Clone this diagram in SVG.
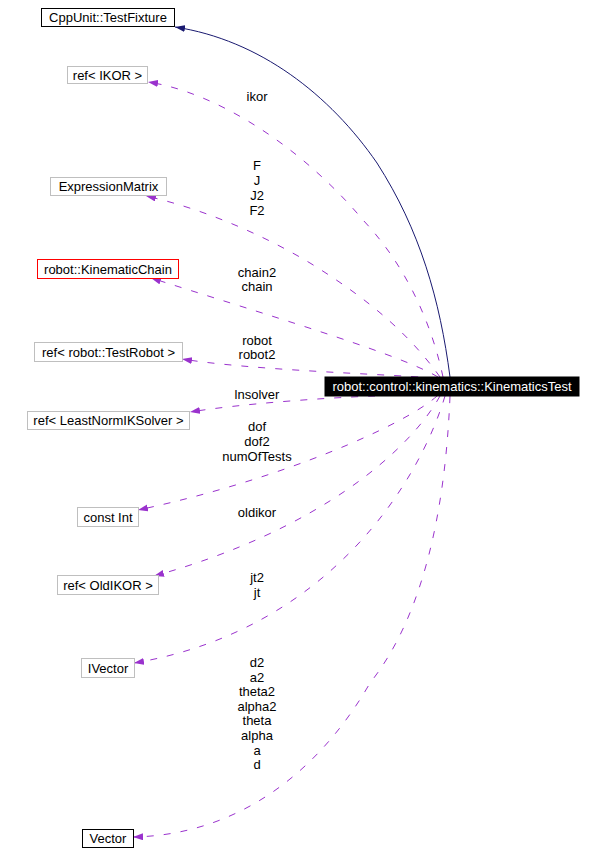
<svg xmlns="http://www.w3.org/2000/svg" width="604" height="865" viewBox="0 0 604 865">
<style>
text{font-family:"Liberation Sans",Arial,sans-serif;font-size:13px;text-anchor:middle;fill:#000}
.box{fill:#fff;stroke:#bfbfbf;stroke-width:1}
.blk{fill:#fff;stroke:#000;stroke-width:1}
.red{fill:#fff;stroke:#ff0000;stroke-width:1}
.use{fill:none;stroke:#9a32cd;stroke-width:1;stroke-dasharray:7,10;marker-end:url(#pa)}
.inh{fill:none;stroke:#191970;stroke-width:1;marker-end:url(#na)}
</style>
<defs>
<marker id="pa" markerUnits="userSpaceOnUse" markerWidth="11" markerHeight="8" refX="10" refY="3.5" orient="auto">
<path d="M0,0 L10,3.5 L0,7 z" fill="#9a32cd" stroke="none"/>
</marker>
<marker id="na" markerUnits="userSpaceOnUse" markerWidth="11" markerHeight="8" refX="10" refY="3.5" orient="auto">
<path d="M0,0 L10,3.5 L0,7 z" fill="#191970" stroke="none"/>
</marker>
</defs>
<rect width="604" height="865" fill="#fff"/>
<g id="connectors">
<path class="inh" d="M450,377 C440,300 420,230 377,163 C330,95 260,40 175,27"/>
<path class="use" d="M443,377 C433,330 410,270 363,220 C300,145 215,92 148,82"/>
<path class="use" d="M440,377 C410,335 370,300 310,263 C260,233 200,208 146,196"/>
<path class="use" d="M438,377 C400,355 300,325 151,278"/>
<path class="use" d="M435,378 C380,374 250,370 182,359"/>
<path class="use" d="M375,396 C320,398 240,404 190,412"/>
<path class="use" d="M437,396 C405,425 280,480 138,510"/>
<path class="use" d="M440,396 C410,450 320,530 154,576"/>
<path class="use" d="M445,396 C420,480 330,630 134,663"/>
<path class="use" d="M450,396 C445,520 420,620 370,683 C320,770 240,835 133,837"/>
</g>
<g id="edge-labels">
<text x="257" y="101">ikor</text>
<text x="257" y="170">F</text>
<text x="257" y="185">J</text>
<text x="257" y="200">J2</text>
<text x="257" y="215">F2</text>
<text x="257" y="277">chain2</text>
<text x="257" y="291">chain</text>
<text x="257" y="345">robot</text>
<text x="257" y="359">robot2</text>
<text x="257" y="399">lnsolver</text>
<text x="257" y="431">dof</text>
<text x="257" y="446">dof2</text>
<text x="257" y="461">numOfTests</text>
<text x="257" y="517">oldikor</text>
<text x="257" y="582">jt2</text>
<text x="257" y="597">jt</text>
<text x="257" y="667">d2</text>
<text x="257" y="682">a2</text>
<text x="257" y="696">theta2</text>
<text x="257" y="711">alpha2</text>
<text x="257" y="725">theta</text>
<text x="257" y="740">alpha</text>
<text x="257" y="755">a</text>
<text x="257" y="769">d</text>
</g>
<g id="KinematicsTest">
<rect x="325" y="377" width="254" height="19" fill="#000" stroke="#000"/>
<text x="452" y="391" style="fill:#fff">robot::control::kinematics::KinematicsTest</text>
</g>
<g id="TestFixture">
<rect class="blk" x="41.5" y="8.5" width="133" height="18"/>
<text x="108" y="22">CppUnit::TestFixture</text>
</g>
<g id="refIKOR">
<rect class="box" x="67.5" y="66.5" width="80" height="17"/>
<text x="107.5" y="79.5">ref&lt; IKOR &gt;</text>
</g>
<g id="ExpressionMatrix">
<rect class="box" x="50.5" y="177.5" width="116" height="18"/>
<text x="108.5" y="191">ExpressionMatrix</text>
</g>
<g id="KinematicChain">
<rect class="red" x="37.5" y="259.5" width="141" height="19"/>
<text x="108" y="273.5">robot::KinematicChain</text>
</g>
<g id="refTestRobot">
<rect class="box" x="34.5" y="342.5" width="148" height="19"/>
<text x="108.5" y="356.5">ref&lt; robot::TestRobot &gt;</text>
</g>
<g id="refLeastNormIKSolver">
<rect class="box" x="27.5" y="411.5" width="162" height="18"/>
<text x="108.5" y="425">ref&lt; LeastNormIKSolver &gt;</text>
</g>
<g id="constInt">
<rect class="box" x="77.5" y="507.5" width="61" height="19"/>
<text x="108" y="521.5">const Int</text>
</g>
<g id="refOldIKOR">
<rect class="box" x="57.5" y="575.5" width="101" height="19"/>
<text x="108" y="589.5">ref&lt; OldIKOR &gt;</text>
</g>
<g id="IVector">
<rect class="box" x="81.5" y="658.5" width="53" height="19"/>
<text x="108" y="672.5">IVector</text>
</g>
<g id="Vector">
<rect class="blk" x="82.5" y="829.5" width="51" height="18"/>
<text x="108" y="843">Vector</text>
</g>
</svg>
